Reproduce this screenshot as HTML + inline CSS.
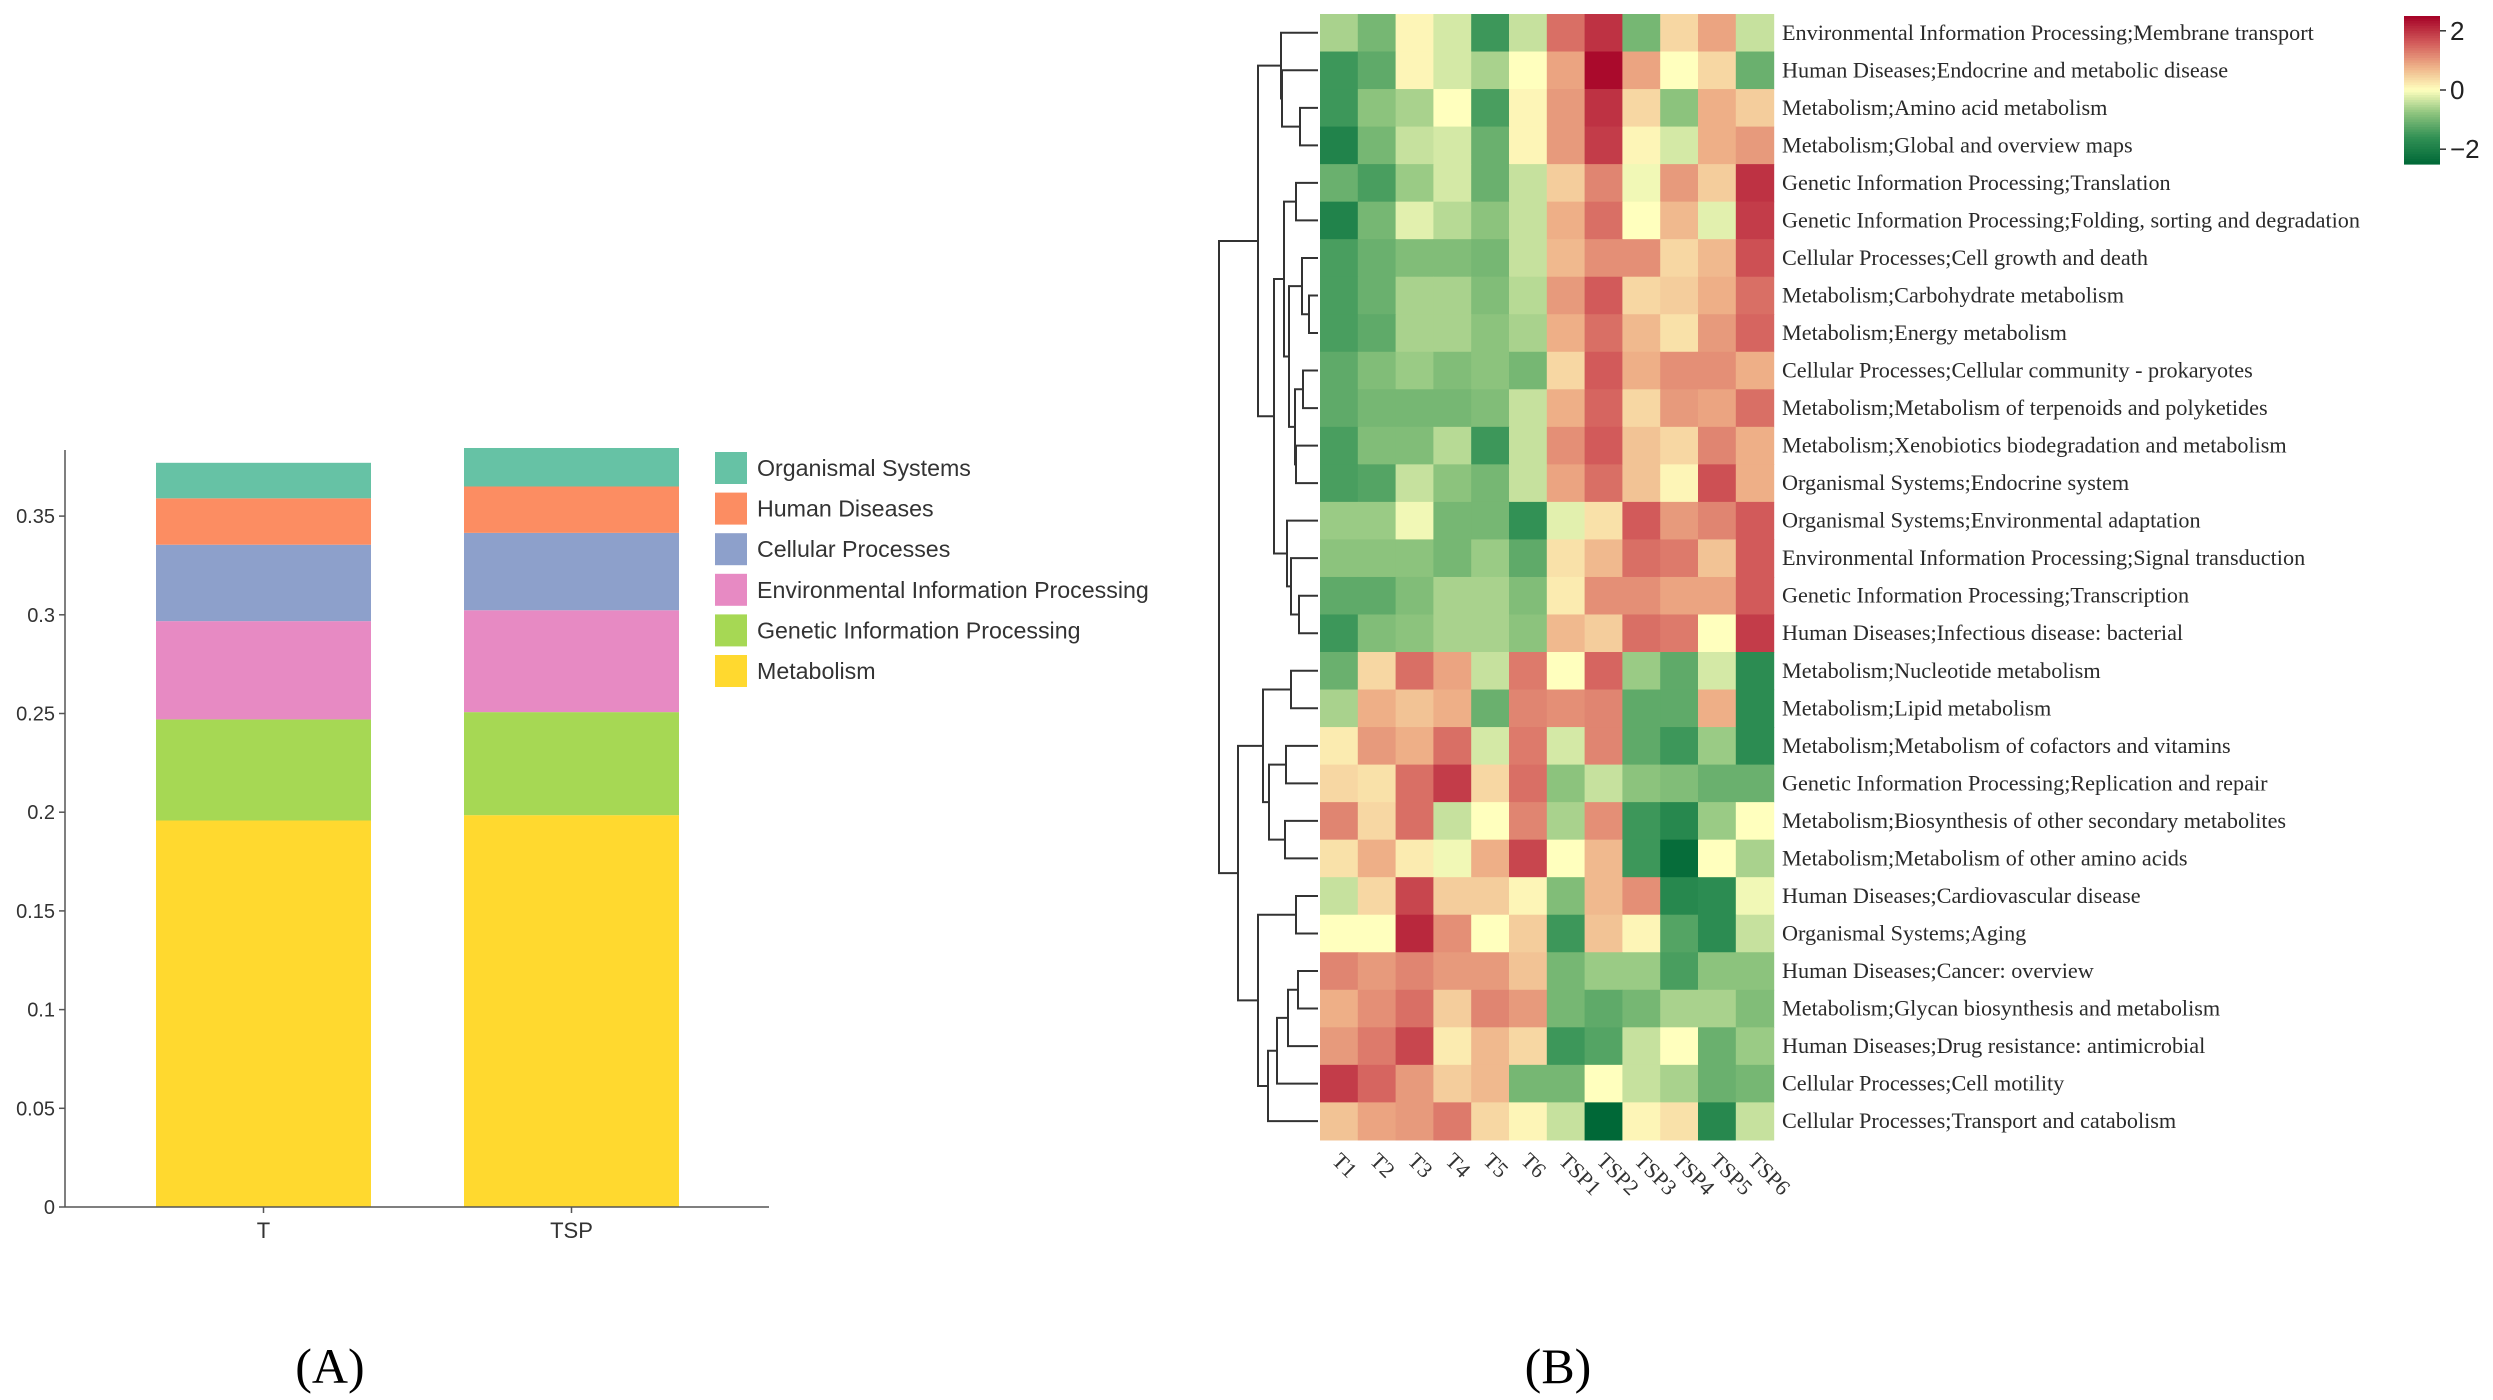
<!DOCTYPE html>
<html><head><meta charset="utf-8"><style>
html,body{margin:0;padding:0;background:#fff;}
svg{display:block;}
</style></head><body>
<svg id="fig" width="2493" height="1400" viewBox="0 0 2493 1400" xmlns="http://www.w3.org/2000/svg">
<rect width="2493" height="1400" fill="#fff"/>
<g id="panelA"></g>
<g id="panelB"></g>
<text x="330" y="1383" font-family="Liberation Serif, serif" font-size="50" text-anchor="middle" fill="#000">(A)</text>
<text x="1558" y="1383" font-family="Liberation Serif, serif" font-size="50" text-anchor="middle" fill="#000">(B)</text>
</svg>
<script>
// ---------- Panel A data ----------
const barGroups = ["T", "TSP"];
const stackNames = ["Metabolism","Genetic Information Processing","Environmental Information Processing","Cellular Processes","Human Diseases","Organismal Systems"];
const stackColors = ["#ffd92f","#a6d854","#e78ac3","#8da0cb","#fc8d62","#66c2a5"];
const valuesT = [0.1958, 0.0512, 0.0498, 0.0387, 0.0235, 0.018];
const valuesTSP = [0.1985, 0.0522, 0.0516, 0.0392, 0.0235, 0.0195];
const yTicks = [0, 0.05, 0.1, 0.15, 0.2, 0.25, 0.3, 0.35];
const yTickLabels = ["0","0.05","0.1","0.15","0.2","0.25","0.3","0.35"];

// ---------- Panel B data ----------
const rowLabels = [
"Environmental Information Processing;Membrane transport",
"Human Diseases;Endocrine and metabolic disease",
"Metabolism;Amino acid metabolism",
"Metabolism;Global and overview maps",
"Genetic Information Processing;Translation",
"Genetic Information Processing;Folding, sorting and degradation",
"Cellular Processes;Cell growth and death",
"Metabolism;Carbohydrate metabolism",
"Metabolism;Energy metabolism",
"Cellular Processes;Cellular community - prokaryotes",
"Metabolism;Metabolism of terpenoids and polyketides",
"Metabolism;Xenobiotics biodegradation and metabolism",
"Organismal Systems;Endocrine system",
"Organismal Systems;Environmental adaptation",
"Environmental Information Processing;Signal transduction",
"Genetic Information Processing;Transcription",
"Human Diseases;Infectious disease: bacterial",
"Metabolism;Nucleotide metabolism",
"Metabolism;Lipid metabolism",
"Metabolism;Metabolism of cofactors and vitamins",
"Genetic Information Processing;Replication and repair",
"Metabolism;Biosynthesis of other secondary metabolites",
"Metabolism;Metabolism of other amino acids",
"Human Diseases;Cardiovascular disease",
"Organismal Systems;Aging",
"Human Diseases;Cancer: overview",
"Metabolism;Glycan biosynthesis and metabolism",
"Human Diseases;Drug resistance: antimicrobial",
"Cellular Processes;Cell motility",
"Cellular Processes;Transport and catabolism"];
const colLabels = ["T1","T2","T3","T4","T5","T6","TSP1","TSP2","TSP3","TSP4","TSP5","TSP6"];
const heatValues = [
[-0.6,-1.0,0.1,-0.3,-1.5,-0.4,1.4,2.0,-1.0,0.4,0.9,-0.4],
[-1.5,-1.2,0.1,-0.3,-0.6,0,0.9,2.4,0.9,0,0.4,-1.1],
[-1.5,-0.8,-0.6,0,-1.4,0.1,1.0,2.0,0.4,-0.8,0.8,0.5],
[-1.9,-1.0,-0.4,-0.3,-1.1,0.1,1.0,1.9,0.1,-0.3,0.8,1.0],
[-1.1,-1.4,-0.7,-0.3,-1.1,-0.4,0.5,1.2,-0.1,1.0,0.5,2.0],
[-1.9,-1.0,-0.2,-0.5,-0.8,-0.4,0.8,1.4,0,0.7,-0.2,1.9],
[-1.4,-1.1,-0.9,-0.9,-1.0,-0.4,0.7,1.1,1.1,0.4,0.7,1.7],
[-1.4,-1.1,-0.6,-0.6,-0.9,-0.5,1.0,1.6,0.4,0.5,0.8,1.4],
[-1.4,-1.2,-0.6,-0.6,-0.8,-0.6,0.8,1.4,0.7,0.3,1.0,1.5],
[-1.2,-0.9,-0.7,-0.9,-0.8,-1.0,0.4,1.6,0.8,1.1,1.1,0.8],
[-1.2,-1.0,-1.0,-1.0,-0.9,-0.4,0.8,1.5,0.4,1.0,0.9,1.4],
[-1.4,-0.9,-0.9,-0.5,-1.5,-0.4,1.1,1.6,0.6,0.4,1.2,0.8],
[-1.4,-1.3,-0.4,-0.8,-1.0,-0.4,0.9,1.4,0.6,0.1,1.7,0.8],
[-0.7,-0.7,-0.1,-1.0,-1.0,-1.6,-0.2,0.3,1.6,1.0,1.2,1.6],
[-0.8,-0.8,-0.8,-1.0,-0.7,-1.2,0.3,0.7,1.4,1.3,0.6,1.6],
[-1.2,-1.2,-0.9,-0.6,-0.6,-0.9,0.2,1.1,1.1,0.9,0.9,1.6],
[-1.5,-0.9,-0.8,-0.6,-0.6,-0.8,0.7,0.5,1.4,1.3,0.0,1.9],
[-1.1,0.4,1.4,0.9,-0.4,1.3,0.0,1.5,-0.7,-1.2,-0.3,-1.7],
[-0.6,0.8,0.6,0.8,-1.1,1.2,1.1,1.2,-1.2,-1.2,0.8,-1.7],
[0.2,1.0,0.8,1.4,-0.3,1.3,-0.3,1.2,-1.2,-1.5,-0.7,-1.7],
[0.4,0.3,1.4,1.9,0.4,1.4,-0.8,-0.4,-0.8,-0.9,-1.1,-1.1],
[1.2,0.4,1.4,-0.4,0,1.2,-0.6,1.1,-1.5,-1.8,-0.7,0],
[0.3,0.8,0.2,-0.1,0.8,1.8,0,0.7,-1.5,-2.4,0,-0.6],
[-0.4,0.4,1.8,0.5,0.5,0.1,-0.9,0.7,1.1,-1.8,-1.7,-0.1],
[0,0,2.1,1.1,0,0.5,-1.5,0.6,0.1,-1.3,-1.7,-0.4],
[1.2,1.0,1.2,1.0,1.0,0.6,-1.0,-0.7,-0.7,-1.4,-0.8,-0.8],
[0.8,1.1,1.4,0.5,1.2,1.0,-1.0,-1.2,-1.0,-0.6,-0.6,-0.9],
[1.0,1.3,1.8,0.2,0.7,0.4,-1.5,-1.3,-0.4,0.0,-1.1,-0.7],
[1.9,1.5,1.0,0.5,0.7,-1.0,-1.0,0.0,-0.4,-0.6,-1.1,-1.0],
[0.6,0.9,1.0,1.3,0.4,0.1,-0.4,-2.5,0.1,0.3,-1.8,-0.4]];
const colorbarTicks = [2, 0, -2];
// dendrogram merges: [height, left, right]; leaves are row indices
const rowTree = [99,
  [60, [37, 0, [36, 1, [18, 2, 3]]],
       [44, [34, [22, 4, 5], [29, [16, 6, [9, 7, 8]], [23, [15, 9, 10], [22, 11, 12]]]],
            [31, 13, [27, 14, [19, 15, 16]]]]],
  [80, [55, [27, 17, 18], [49, [32, 19, 20], [33, 21, 22]]],
       [60, [22, 23, 24], [50, [41, [30, [20, 25, 26], 27], 28], 29]]]];

const NS = "http://www.w3.org/2000/svg";
function mk(tag, attrs, parent){const e=document.createElementNS(NS,tag);for(const k in attrs)e.setAttribute(k,attrs[k]);parent.appendChild(e);return e;}

// ---------- Draw Panel A ----------
(function(){
const g = document.getElementById("panelA");
const y0 = 1207, pxPer = 98.7/0.05, axX = 65, axRight = 769;
const yS = v => y0 - v*pxPer;
const barLeft = [156, 464], barW = 215;
const allVals = [valuesT, valuesTSP];
const sans = "Liberation Sans, sans-serif";
barGroups.forEach((grp, gi) => {
  let acc = 0;
  allVals[gi].forEach((v, si) => {
    const r = mk("rect", {x: barLeft[gi], y: yS(acc+v), width: barW, height: yS(acc)-yS(acc+v), fill: stackColors[si]}, g);
    
    
    acc += v;
  });
  const xl = mk("text", {x: barLeft[gi]+barW/2, y: y0+31, "font-family": sans, "font-size": 22, "text-anchor": "middle", fill: "#333"}, g);
  xl.textContent = grp;
  
  
  const tk = mk("line", {x1: barLeft[gi]+barW/2, x2: barLeft[gi]+barW/2, y1: y0, y2: y0+6, stroke: "#555", "stroke-width": 1.5}, g);
  
  
});
const ya = mk("line", {x1: axX, x2: axX, y1: 450, y2: y0, stroke: "#555", "stroke-width": 1.5}, g);


const xa = mk("line", {x1: axX, x2: axRight, y1: y0, y2: y0, stroke: "#555", "stroke-width": 1.5}, g);


yTicks.forEach((t, i) => {
  const ln = mk("line", {x1: axX-6, x2: axX, y1: yS(t), y2: yS(t), stroke: "#555", "stroke-width": 1.5}, g);
  
  
  const tx = mk("text", {x: axX-10, y: yS(t)+7, "font-family": sans, "font-size": 20, "text-anchor": "end", fill: "#333"}, g);
  tx.textContent = yTickLabels[i];
  
  
});
const order = [5,4,3,2,1,0];
order.forEach((si, k) => {
  const cy = 468 + k*40.6;
  const sw = mk("rect", {x: 715, y: cy-16, width: 32, height: 32, fill: stackColors[si]}, g);
  
  
  const tx = mk("text", {x: 757, y: cy+8, "font-family": sans, "font-size": 23.2, fill: "#333"}, g);
  tx.textContent = stackNames[si];
  
  
});
})();

// ---------- Draw Panel B ----------
(function(){
const g = document.getElementById("panelB");
const hx = 1320, hy = 14, cw = 37.8, ch = 37.53;
const serif = "Liberation Serif, serif";
const stops = [[-2.5,[0,104,55]],[-1.6,[50,145,85]],[-0.8,[140,195,125]],[0,[255,255,190]],[0.8,[238,175,135]],[1.6,[210,90,90]],[2.5,[165,0,38]]];
function color(v){
  if(v<=stops[0][0]) return "rgb("+stops[0][1]+")";
  for(let i=1;i<stops.length;i++){
    if(v<=stops[i][0]){const a=stops[i-1],b=stops[i];const t=(v-a[0])/(b[0]-a[0]);
      const c=a[1].map((x,j)=>Math.round(x+(b[1][j]-x)*t));return "rgb("+c+")";}
  }
  return "rgb("+stops[stops.length-1][1]+")";
}
heatValues.forEach((row, r) => {
  row.forEach((v, c) => {
    const cell = mk("rect", {x: hx+c*cw, y: hy+r*ch, width: cw+0.6, height: ch+0.6, fill: color(v)}, g);
    
    
  });
  const tx = mk("text", {x: 1782, y: hy+r*ch+ch/2+7, "font-family": serif, "font-size": 22.2, fill: "#2a2a2a"}, g);
  tx.textContent = rowLabels[r];
  
  
});
colLabels.forEach((lab, c) => {
  const x = hx + c*cw + cw/2 - 8, y = hy + heatValues.length*ch + 22;
  const tx = mk("text", {x: x, y: y, transform: "rotate(45 "+x+" "+y+")", "font-family": serif, "font-size": 22, fill: "#333"}, g);
  tx.textContent = lab;
  
  
});
const dg = mk("g", {stroke: "#333", "stroke-width": 2, fill: "none"}, g);


const dx = d => hx - 2 - d;
function draw(node){
  if(typeof node === "number") return {y: hy + node*ch + ch/2, d: 0};
  const a = draw(node[1]), b = draw(node[2]), X = dx(node[0]);
  mk("path", {d: "M"+dx(a.d)+","+a.y+"H"+X+"V"+b.y+"H"+dx(b.d)}, dg);
  return {y: (a.y+b.y)/2, d: node[0]};
}
draw(rowTree);
const cbx = 2404, cbTop = 16, cbBot = 164, vMax = 2.5, vMin = -2.5;
const cbY = v => cbTop + (vMax - v)/(vMax - vMin)*(cbBot - cbTop);
for(let i=0;i<60;i++){
  const v0 = vMax - i*(vMax-vMin)/60;
  const seg = mk("rect", {x: cbx, y: cbY(v0), width: 36, height: (cbBot-cbTop)/60+0.6, fill: color(v0 - (vMax-vMin)/120)}, g);
  
  
}
colorbarTicks.forEach(t => {
  const ln = mk("line", {x1: cbx+36, x2: cbx+42, y1: cbY(t), y2: cbY(t), stroke: "#333", "stroke-width": 1.5}, g);
  
  
  const tx = mk("text", {x: cbx+46, y: cbY(t)+9, "font-family": "Liberation Sans, sans-serif", "font-size": 26, fill: "#222"}, g);
  tx.textContent = t < 0 ? "\u2212" + Math.abs(t) : String(t);
  
  
});
})();
</script>
</body></html>
